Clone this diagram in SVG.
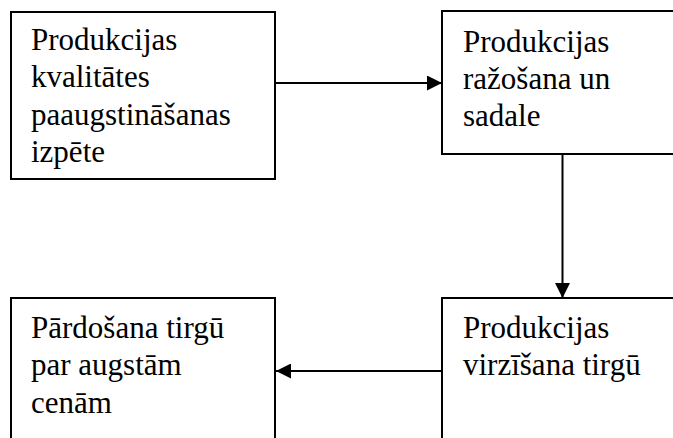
<svg xmlns="http://www.w3.org/2000/svg" width="673" height="438" viewBox="0 0 673 438">
  <defs>
    <marker id="arrow" viewBox="0 0 15 15" refX="15" refY="7.5" markerWidth="15" markerHeight="15" markerUnits="userSpaceOnUse" orient="auto">
      <path d="M0,0 L15,7.5 L0,15 Z" fill="#000"/>
    </marker>
    <style>
      .box { fill: #fff; stroke: #000; stroke-width: 2; }
      .lbl { font-family: "Liberation Serif", "Times New Roman", serif; font-size: 31px; fill: #000; }
      .edge { fill: none; stroke: #000; stroke-width: 2; }
    </style>
  </defs>
  <rect width="673" height="438" fill="#fff"/>

  <g id="node-izpete">
    <rect class="box" x="11" y="12" width="264" height="167"/>
    <text class="lbl" x="31" y="50">Produkcijas</text>
    <text class="lbl" x="31" y="87.3">kvalitātes</text>
    <text class="lbl" x="31" y="124.5">paaugstināšanas</text>
    <text class="lbl" x="31" y="161.7">izpēte</text>
  </g>

  <g id="node-razosana">
    <rect class="box" x="442" y="11" width="250" height="143"/>
    <text class="lbl" x="463" y="51.5">Produkcijas</text>
    <text class="lbl" x="463" y="89">ražošana un</text>
    <text class="lbl" x="463" y="126">sadale</text>
  </g>

  <g id="node-virzisana">
    <rect class="box" x="442" y="298" width="250" height="160"/>
    <text class="lbl" x="463" y="338">Produkcijas</text>
    <text class="lbl" x="463" y="375">virzīšana tirgū</text>
  </g>

  <g id="node-pardosana">
    <rect class="box" x="11" y="298" width="264" height="160"/>
    <text class="lbl" x="31" y="338">Pārdošana tirgū</text>
    <text class="lbl" x="31" y="375">par augstām</text>
    <text class="lbl" x="31" y="412.5">cenām</text>
  </g>

  <g id="connectors">
    <line class="edge" x1="275" y1="83" x2="442" y2="83" marker-end="url(#arrow)"/>
    <line class="edge" x1="562.5" y1="154" x2="562.5" y2="298" marker-end="url(#arrow)"/>
    <line class="edge" x1="442" y1="371" x2="276" y2="371" marker-end="url(#arrow)"/>
  </g>
</svg>
